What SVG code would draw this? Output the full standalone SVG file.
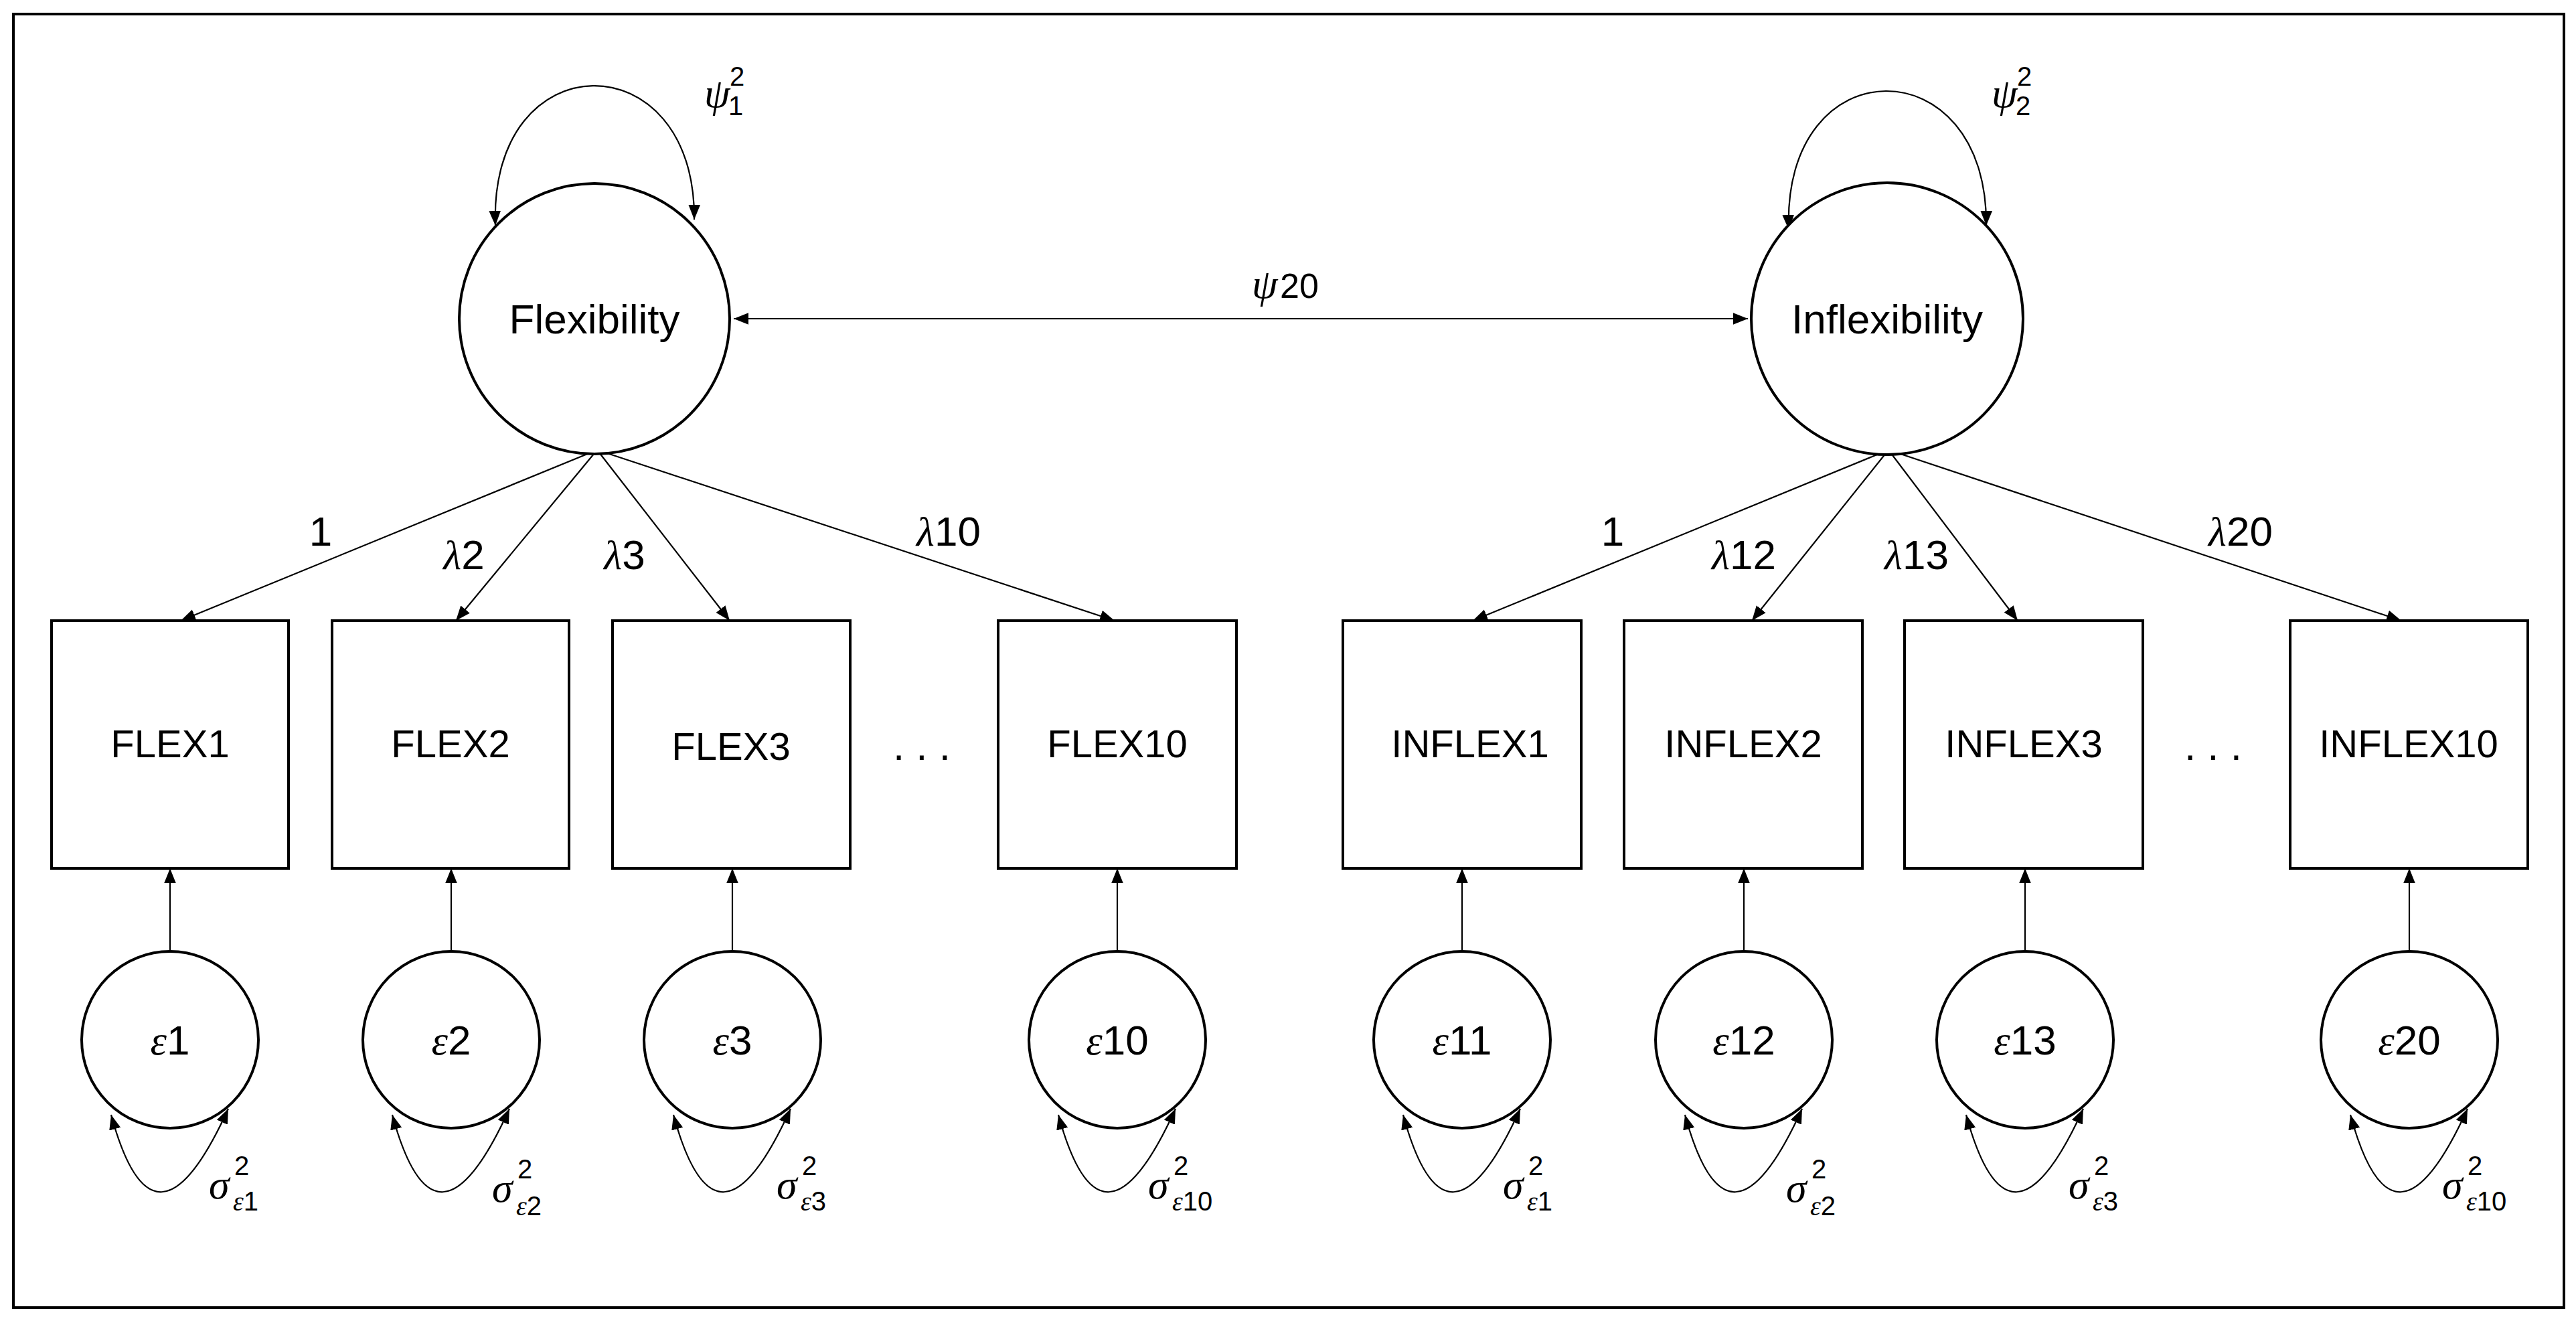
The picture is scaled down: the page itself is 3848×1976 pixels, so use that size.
<svg xmlns="http://www.w3.org/2000/svg" width="3848" height="1976" viewBox="0 0 3848 1976">
<style>
text{font-family:"Liberation Sans","DejaVu Sans",sans-serif;fill:#000}
.nd{fill:#fff;stroke:#000;stroke-width:4}
.ln{fill:none;stroke:#000;stroke-width:2.2}
.lb{font-size:62px;text-anchor:middle}
.bx{font-size:58px;text-anchor:middle}
.gr{font-family:"Liberation Serif","DejaVu Serif",serif;font-style:italic}
.sm{font-size:40px}
</style>
<defs>
<marker id="ah" viewBox="0 0 10 10" refX="10" refY="5" markerWidth="11" markerHeight="11" markerUnits="userSpaceOnUse" orient="auto-start-reverse"><path d="M0,0 L10,5 L0,10 z" fill="#000"/></marker>
<marker id="ah2" viewBox="0 0 10 10" refX="10" refY="5" markerWidth="22" markerHeight="22" markerUnits="userSpaceOnUse" orient="auto-start-reverse"><path d="M0,1 L10,5 L0,9 z" fill="#000"/></marker>
</defs>
<rect x="20" y="21" width="3810" height="1932" fill="#fff" stroke="#000" stroke-width="4"/>
<g id="connectors" class="ln">
<line x1="1096" y1="476" x2="2611" y2="476" marker-start="url(#ah2)" marker-end="url(#ah2)"/>
<path d="M740,337 C730,60 1040,60 1037,328" marker-start="url(#ah2)" marker-end="url(#ah2)"/>
<path d="M2672,343 C2662,68 2970,68 2967,337" marker-start="url(#ah2)" marker-end="url(#ah2)"/>
<line x1="892" y1="672" x2="270" y2="927" marker-end="url(#ah2)"/>
<line x1="892" y1="672" x2="681" y2="927" marker-end="url(#ah2)"/>
<line x1="892" y1="672" x2="1090" y2="927" marker-end="url(#ah2)"/>
<line x1="892" y1="672" x2="1665" y2="927" marker-end="url(#ah2)"/>
<line x1="2821" y1="672" x2="2200" y2="927" marker-end="url(#ah2)"/>
<line x1="2821" y1="672" x2="2617" y2="927" marker-end="url(#ah2)"/>
<line x1="2821" y1="672" x2="3014" y2="927" marker-end="url(#ah2)"/>
<line x1="2821" y1="672" x2="3587" y2="927" marker-end="url(#ah2)"/>
<g id="err-arrows">
<line x1="254" y1="1421" x2="254" y2="1297" marker-end="url(#ah2)"/>
<line x1="674" y1="1421" x2="674" y2="1297" marker-end="url(#ah2)"/>
<line x1="1094" y1="1421" x2="1094" y2="1297" marker-end="url(#ah2)"/>
<line x1="1669" y1="1421" x2="1669" y2="1297" marker-end="url(#ah2)"/>
<line x1="2184" y1="1421" x2="2184" y2="1297" marker-end="url(#ah2)"/>
<line x1="2605" y1="1421" x2="2605" y2="1297" marker-end="url(#ah2)"/>
<line x1="3025" y1="1421" x2="3025" y2="1297" marker-end="url(#ah2)"/>
<line x1="3599" y1="1421" x2="3599" y2="1297" marker-end="url(#ah2)"/>
</g>
<g id="err-loops">
<path d="M166,1665 Q230,1900 341,1656" marker-start="url(#ah2)" marker-end="url(#ah2)"/>
<path d="M586,1665 Q650,1900 761,1656" marker-start="url(#ah2)" marker-end="url(#ah2)"/>
<path d="M1006,1665 Q1070,1900 1181,1656" marker-start="url(#ah2)" marker-end="url(#ah2)"/>
<path d="M1581,1665 Q1645,1900 1756,1656" marker-start="url(#ah2)" marker-end="url(#ah2)"/>
<path d="M2096,1665 Q2160,1900 2271,1656" marker-start="url(#ah2)" marker-end="url(#ah2)"/>
<path d="M2517,1665 Q2581,1900 2692,1656" marker-start="url(#ah2)" marker-end="url(#ah2)"/>
<path d="M2937,1665 Q3001,1900 3112,1656" marker-start="url(#ah2)" marker-end="url(#ah2)"/>
<path d="M3511,1665 Q3575,1900 3686,1656" marker-start="url(#ah2)" marker-end="url(#ah2)"/>
</g>
</g>
<g id="latent-labels">
<text x="1052" y="160" font-size="62" class="gr">ψ</text><text x="1090" y="128" class="sm">2</text><text x="1088" y="172" class="sm">1</text>
<text x="2975" y="160" font-size="62" class="gr">ψ</text><text x="3013" y="128" class="sm">2</text><text x="3011" y="172" class="sm">2</text>
<text x="1870" y="445" font-size="62" class="gr">ψ</text><text x="1912" y="445" font-size="52">20</text>
<text x="479" y="815" class="lb">1</text>
<text x="693" y="850" class="lb"><tspan class="gr">λ</tspan>2</text>
<text x="933" y="850" class="lb"><tspan class="gr">λ</tspan>3</text>
<text x="1417" y="815" class="lb"><tspan class="gr">λ</tspan>10</text>
<text x="2409" y="815" class="lb">1</text>
<text x="2605" y="850" class="lb"><tspan class="gr">λ</tspan>12</text>
<text x="2863" y="850" class="lb"><tspan class="gr">λ</tspan>13</text>
<text x="3347" y="815" class="lb"><tspan class="gr">λ</tspan>20</text>
<text x="1377" y="1135" class="lb">. . .</text>
<text x="3306" y="1135" class="lb">. . .</text>
</g>
<g id="Flexibility"><circle class="nd" cx="888" cy="476" r="202"/><text x="888" y="498" class="lb" font-size="64">Flexibility</text></g>
<g id="Inflexibility"><circle class="nd" cx="2819" cy="476" r="203"/><text x="2819" y="498" class="lb" font-size="64">Inflexibility</text></g>
<g id="FLEX1"><rect class="nd" x="77" y="927" width="354" height="370"/><text x="254" y="1131" class="bx">FLEX1</text></g>
<g id="FLEX2"><rect class="nd" x="496" y="927" width="354" height="370"/><text x="673" y="1131" class="bx">FLEX2</text></g>
<g id="FLEX3"><rect class="nd" x="915" y="927" width="355" height="370"/><text x="1092" y="1135" class="bx">FLEX3</text></g>
<g id="FLEX10"><rect class="nd" x="1491" y="927" width="356" height="370"/><text x="1669" y="1131" class="bx">FLEX10</text></g>
<g id="INFLEX1"><rect class="nd" x="2006" y="927" width="356" height="370"/><text x="2196" y="1131" class="bx">INFLEX1</text></g>
<g id="INFLEX2"><rect class="nd" x="2426" y="927" width="356" height="370"/><text x="2604" y="1131" class="bx">INFLEX2</text></g>
<g id="INFLEX3"><rect class="nd" x="2845" y="927" width="356" height="370"/><text x="3023" y="1131" class="bx">INFLEX3</text></g>
<g id="INFLEX10"><rect class="nd" x="3421" y="927" width="355" height="370"/><text x="3598" y="1131" class="bx">INFLEX10</text></g>
<g id="e1"><circle class="nd" cx="254" cy="1553" r="132"/><text x="254" y="1575" class="lb"><tspan class="gr">ε</tspan>1</text></g>
<g id="e2"><circle class="nd" cx="674" cy="1553" r="132"/><text x="674" y="1575" class="lb"><tspan class="gr">ε</tspan>2</text></g>
<g id="e3"><circle class="nd" cx="1094" cy="1553" r="132"/><text x="1094" y="1575" class="lb"><tspan class="gr">ε</tspan>3</text></g>
<g id="e10"><circle class="nd" cx="1669" cy="1553" r="132"/><text x="1669" y="1575" class="lb"><tspan class="gr">ε</tspan>10</text></g>
<g id="e11"><circle class="nd" cx="2184" cy="1553" r="132"/><text x="2184" y="1575" class="lb"><tspan class="gr">ε</tspan>11</text></g>
<g id="e12"><circle class="nd" cx="2605" cy="1553" r="132"/><text x="2605" y="1575" class="lb"><tspan class="gr">ε</tspan>12</text></g>
<g id="e13"><circle class="nd" cx="3025" cy="1553" r="132"/><text x="3025" y="1575" class="lb"><tspan class="gr">ε</tspan>13</text></g>
<g id="e20"><circle class="nd" cx="3599" cy="1553" r="132"/><text x="3599" y="1575" class="lb"><tspan class="gr">ε</tspan>20</text></g>
<g id="var-labels">
<text x="312" y="1790" font-size="62" class="gr">σ</text><text x="350" y="1755" class="sm">2</text><text x="348" y="1808" class="sm"><tspan class="gr">ε</tspan>1</text>
<text x="735" y="1795" font-size="62" class="gr">σ</text><text x="773" y="1760" class="sm">2</text><text x="771" y="1815" class="sm"><tspan class="gr">ε</tspan>2</text>
<text x="1160" y="1790" font-size="62" class="gr">σ</text><text x="1198" y="1755" class="sm">2</text><text x="1196" y="1808" class="sm"><tspan class="gr">ε</tspan>3</text>
<text x="1715" y="1790" font-size="62" class="gr">σ</text><text x="1753" y="1755" class="sm">2</text><text x="1751" y="1808" class="sm"><tspan class="gr">ε</tspan>10</text>
<text x="2245" y="1790" font-size="62" class="gr">σ</text><text x="2283" y="1755" class="sm">2</text><text x="2281" y="1808" class="sm"><tspan class="gr">ε</tspan>1</text>
<text x="2668" y="1795" font-size="62" class="gr">σ</text><text x="2706" y="1760" class="sm">2</text><text x="2704" y="1815" class="sm"><tspan class="gr">ε</tspan>2</text>
<text x="3090" y="1790" font-size="62" class="gr">σ</text><text x="3128" y="1755" class="sm">2</text><text x="3126" y="1808" class="sm"><tspan class="gr">ε</tspan>3</text>
<text x="3648" y="1790" font-size="62" class="gr">σ</text><text x="3686" y="1755" class="sm">2</text><text x="3684" y="1808" class="sm"><tspan class="gr">ε</tspan>10</text>
</g>
</svg>
